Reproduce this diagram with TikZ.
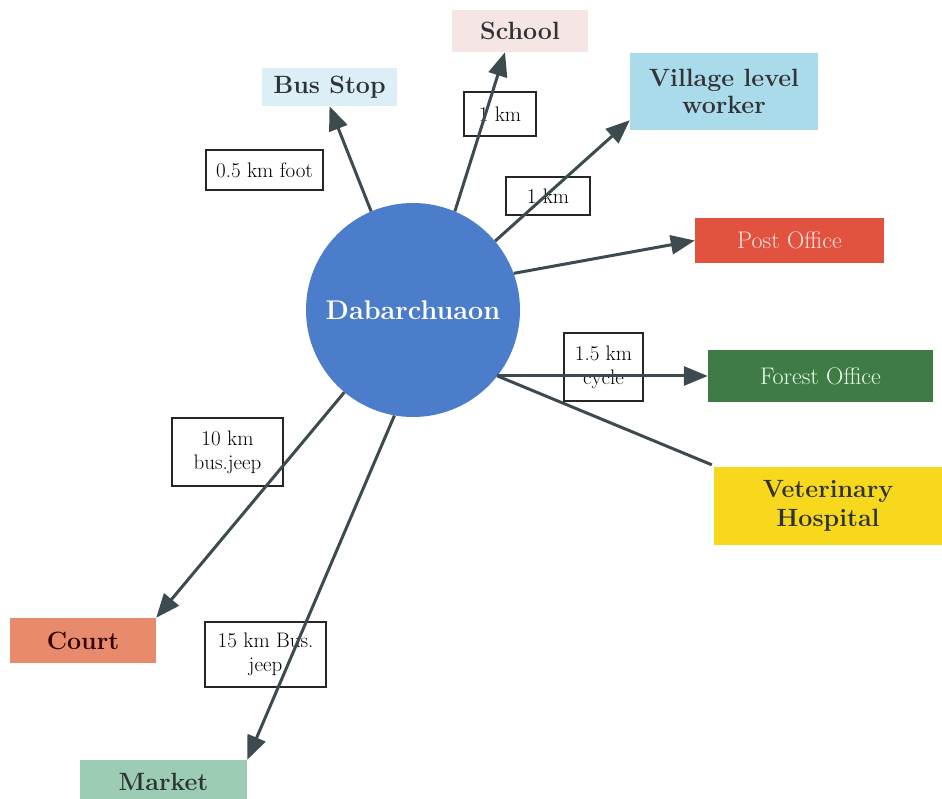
\documentclass[tikz,border=0pt]{standalone}
\usepackage{fontspec}
\usetikzlibrary{arrows.meta}
\definecolor{arrowc}{HTML}{3D4A4F}
\definecolor{circc}{HTML}{4C7DCB}
\definecolor{schoolc}{HTML}{F6E5E5}
\definecolor{busc}{HTML}{DDEFF6}
\definecolor{villc}{HTML}{A9DBEA}
\definecolor{postc}{HTML}{E2533F}
\definecolor{forestc}{HTML}{3E7B45}
\definecolor{vetc}{HTML}{F8D81C}
\definecolor{courtc}{HTML}{E88A6C}
\definecolor{marketc}{HTML}{9CCDB4}
\definecolor{darktext}{HTML}{2E3436}
\tikzset{
  dest/.style={inner sep=0pt, align=center, font=\fontsize{25}{30}\selectfont\bfseries, text=darktext},
  lab/.style={draw=black!85, line width=1.6pt, fill=white, inner sep=0pt, align=center, font=\fontsize{21}{24}\selectfont, text=black},
  link/.style={draw=arrowc, line width=3pt, -{Triangle[length=24pt,width=19pt]}},
  plain/.style={draw=arrowc, line width=3pt}
}
\begin{document}
\begin{tikzpicture}[x=1pt,y=-1pt]
\useasboundingbox[fill=white] (0,0) rectangle (942,799);
% destinations
\node[dest, fill=schoolc, minimum width=136pt, minimum height=42pt] (school) at (520,31) {School};
\node[dest, fill=busc, minimum width=135pt, minimum height=38pt] (bus) at (329.5,87) {Bus Stop};
\node[dest, fill=villc, minimum width=188pt, minimum height=77pt, text=black!75!cyan!40!black] (vill) at (724,91.5) {Village level\\[-3pt]worker};
\node[dest, fill=postc, minimum width=189pt, minimum height=45pt, font=\fontsize{24}{28}\selectfont, text=red!10!white] (post) at (789.5,240.5) {Post Office};
\node[dest, fill=forestc, minimum width=225pt, minimum height=52pt, font=\fontsize{24}{28}\selectfont, text=green!8!white] (forest) at (820.5,376) {Forest Office};
\node[dest, fill=vetc, minimum width=228pt, minimum height=78pt] (vet) at (828,506) {Veterinary\\[-1pt]Hospital};
\node[dest, fill=courtc, minimum width=146pt, minimum height=45pt, text=black!80!red] (court) at (83,640.5) {Court};
\node[dest, fill=marketc, minimum width=167pt, minimum height=44pt] (market) at (163.5,782) {Market};
% centre
\node[circle, fill=circc, minimum size=214pt, inner sep=0pt, text=white, font=\fontsize{27}{30}\selectfont\bfseries] (c) at (413,310) {Dabarchuaon};
% labels
\node[lab, minimum width=117pt, minimum height=40pt] (l1) at (264.5,170) {0.5 km foot};
\node[lab, minimum width=72pt, minimum height=44pt] (l2) at (500,114) {1 km};
\node[lab, minimum width=84pt, minimum height=38pt] (l3) at (548,196) {1 km};
\node[lab, minimum width=79pt, minimum height=68pt] (l4) at (603.5,367) {1.5 km\\cycle};
\node[lab, minimum width=111pt, minimum height=68pt] (l5) at (227.5,452) {10 km\\bus.jeep};
\node[lab, minimum width=121pt, minimum height=65pt] (l6) at (265.5,654.5) {15 km Bus.\\jeep};
% connectors
\draw[link] (c.113) -- (bus.south);
\draw[link] (c.67) -- ([xshift=-15pt]school.south);
\draw[link] (c.40) -- ([yshift=10pt]vill.south west);
\draw[link] (c.20) -- (post.west);
\draw[link] (c.-38) -- (c.-38 -| forest.west);
\draw[plain] (c.-38) -- ([xshift=-2pt,yshift=2pt]vet.north west);
\draw[link] (c) -- (court.north east);
\draw[link] (c.-100) -- (market.north east);
\end{tikzpicture}
\end{document}
